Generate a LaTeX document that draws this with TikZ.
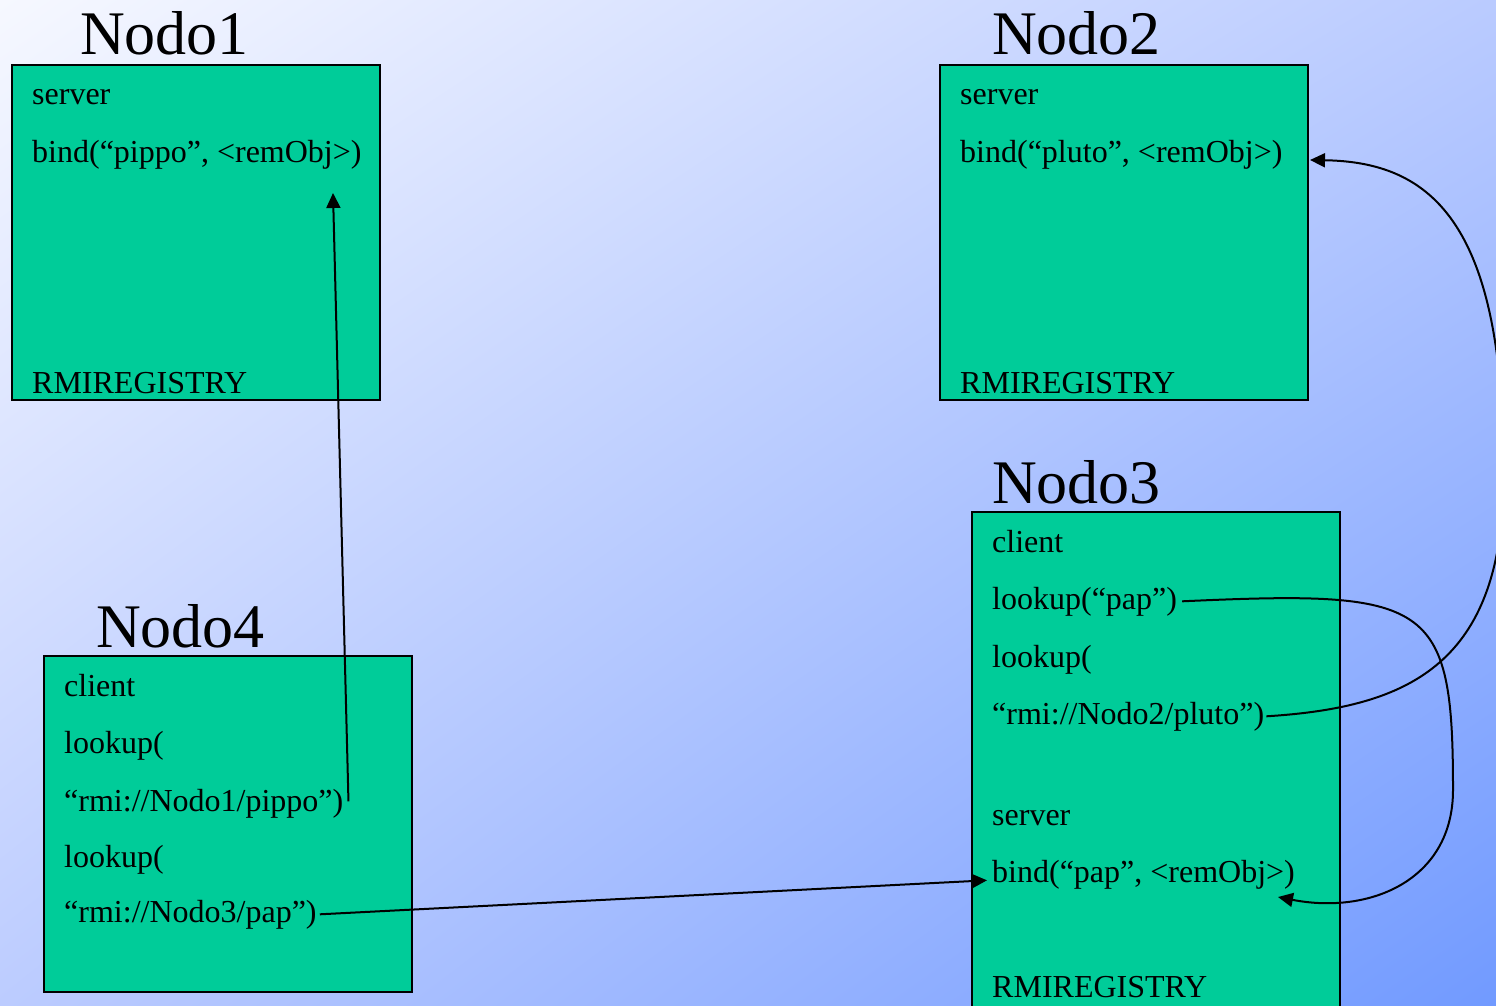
\documentclass[tikz,border=0pt]{standalone}
\usepackage{fontspec}
\setmainfont{Liberation Serif}
\usetikzlibrary{arrows.meta,shadings}
\definecolor{boxgreen}{RGB}{0,204,153}
\definecolor{bgUL}{RGB}{246,248,255}
\definecolor{bgUR}{RGB}{186,203,255}
\definecolor{bgLL}{RGB}{188,204,255}
\definecolor{bgLR}{RGB}{113,154,255}
\begin{document}
\begin{tikzpicture}[x=1pt,y=-1pt,
  box/.style={draw=black, line width=2pt, fill=boxgreen, anchor=north west,
              inner sep=0pt, outer sep=0pt},
  title/.style={anchor=base west, inner sep=0pt, font=\fontsize{62}{70}\selectfont},
  txt/.style={anchor=base west, inner sep=0pt, font=\fontsize{32}{38}\selectfont},
  link/.style={line width=2pt, -{Triangle[length=15pt,width=14pt]}}]

\useasboundingbox (0,0) rectangle (1496,1006);
\clip (0,0) rectangle (1496,1006);

% background
\shade[upper left=bgUL, upper right=bgUR, lower left=bgLL, lower right=bgLR]
  (0,0) rectangle (1496,1006);

% Nodo1
\node[title] (t1) at (80,55) {Nodo1};
\node[box, minimum width=368pt, minimum height=335pt] (n1box) at (12,65) {};
\node[txt] (n1srv) at (32,105) {server};
\node[txt] (n1bind) at (32,162) {bind(“pippo”, <remObj>)};
\node[txt] (n1reg) at (32,393) {RMIREGISTRY};

% Nodo2
\node[title] (t2) at (992,55) {Nodo2};
\node[box, minimum width=368pt, minimum height=335pt] (n2box) at (940,65) {};
\node[txt] (n2srv) at (960,105) {server};
\node[txt] (n2bind) at (960,162) {bind(“pluto”, <remObj>)};
\node[txt] (n2reg) at (960,393) {RMIREGISTRY};

% Nodo3
\node[title] (t3) at (992,503) {Nodo3};
\node[box, minimum width=368pt, minimum height=530pt] (n3box) at (972,512) {};
\node[txt] (n3cli) at (992,552) {client};
\node[txt] (n3pap) at (992,609) {lookup(“pap”)};
\node[txt] (n3look) at (992,667) {lookup(};
\node[txt] (n3pluto) at (992,724) {“rmi://Nodo2/pluto”)};
\node[txt] (n3srv) at (992,825) {server};
\node[txt] (n3bind) at (992,882) {bind(“pap”, <remObj>)};
\node[txt] (n3reg) at (992,997) {RMIREGISTRY};

% Nodo4
\node[title] (t4) at (96,647) {Nodo4};
\node[box, minimum width=368pt, minimum height=336pt] (n4box) at (44,656) {};
\node[txt] (n4cli) at (64,696) {client};
\node[txt] (n4look1) at (64,753) {lookup(};
\node[txt] (n4pippo) at (64,811) {“rmi://Nodo1/pippo”)};
\node[txt] (n4look2) at (64,867) {lookup(};
\node[txt] (n4pap) at (64,922) {“rmi://Nodo3/pap”)};

% connector end points
\coordinate (c1) at (333,193);
\coordinate (c2) at (1310,160);
\coordinate (c3) at (1278,897);

% Nodo4 -> Nodo1
\draw[link] ([xshift=5pt,yshift=2pt]n4pippo.east) -- (c1);
% Nodo4 -> Nodo3
\draw[link] ([xshift=3pt]n4pap.east) -- ([xshift=-5pt,yshift=-6pt]n3bind.west);
% Nodo3 -> Nodo2
\draw[link] ([xshift=2pt]n3pluto.east)
  .. controls (1400,708) and (1495,670) .. (1503,500)
  .. controls (1510,220) and (1430,162) .. (c2);
% Nodo3 lookup -> Nodo3 bind
\draw[link] ([xshift=5pt]n3pap.east)
  .. controls (1430,590) and (1453,600) .. (1453,790)
  .. controls (1453,880) and (1370,915) .. (c3);
\end{tikzpicture}
\end{document}
